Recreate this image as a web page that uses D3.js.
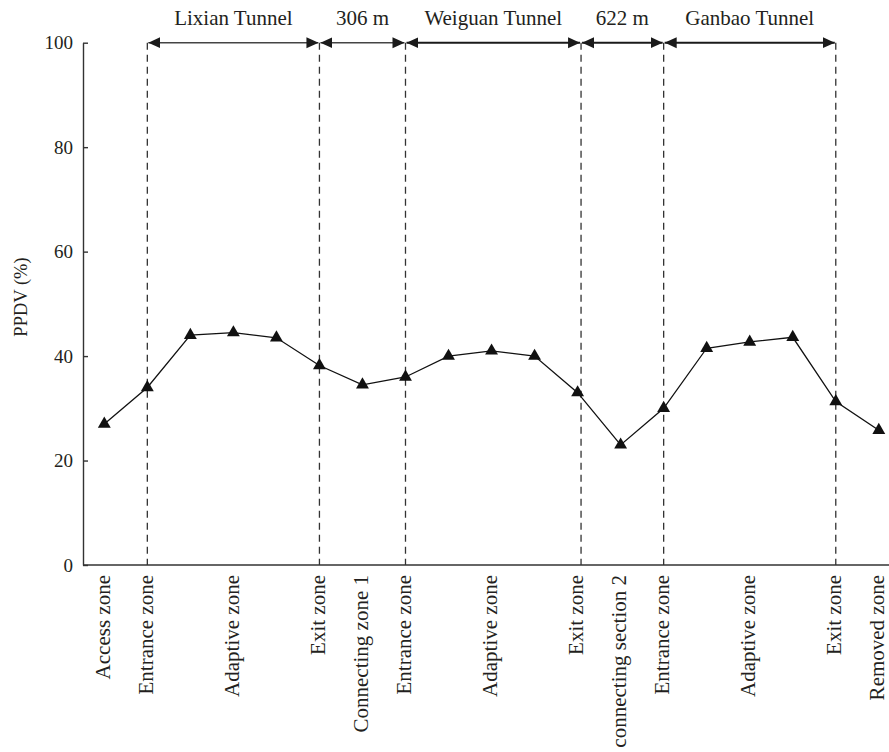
<!DOCTYPE html>
<html>
<head>
<meta charset="utf-8">
<script src="https://cdn.jsdelivr.net/npm/d3@7/dist/d3.min.js"></script>
<style>
  html, body { margin: 0; padding: 0; background: #fff; }
  svg { display: block; font-family: "Liberation Serif", "Times New Roman", serif; }
</style>
</head>
<body>
<svg id="chart" width="889" height="752"></svg>
<script>
// PPDV measured at each observation point along the three-tunnel route
const ppdv = [27, 34, 44, 44.5, 43.5, 38.2, 34.5, 36, 40, 41, 40, 33, 23, 30, 41.5, 42.7, 43.6, 31.3, 25.8];

// Zone labels under the axis: point index and text
const zoneIndex = [0, 1, 3, 5, 6, 7, 9, 11, 12, 13, 15, 17, 18];
const zoneNames = ["Access zone", "Entrance zone", "Adaptive zone", "Exit zone", "Connecting zone 1",
                   "Entrance zone", "Adaptive zone", "Exit zone", "connecting section 2",
                   "Entrance zone", "Adaptive zone", "Exit zone", "Removed zone"];

// Portal boundaries (in point-index units) and the spans between them
const boundaries = [1, 5, 7, 11.08, 13, 17];
const spanNames = ["Lixian Tunnel", "306 m", "Weiguan Tunnel", "622 m", "Ganbao Tunnel"];

const yTicks = [0, 20, 40, 60, 80, 100];

const svg = d3.select("#chart");
const ink = "#231f20";
const serif = "Liberation Serif";

const x = d3.scaleLinear().domain([0, ppdv.length - 1]).range([104.3, 878.8]);
const y = d3.scaleLinear().domain([0, 100]).range([565, 42.7]);
const axisLeftX = 83;
const axisRightX = 889;

// Y axis with inward ticks
const yAxis = svg.append("g")
  .attr("transform", `translate(${axisLeftX},0)`)
  .call(d3.axisLeft(y).tickValues(yTicks).tickSizeInner(-5).tickSizeOuter(0).tickPadding(10));
yAxis.attr("font-family", serif);
yAxis.select(".domain").attr("stroke", "#333").attr("stroke-width", 1.4);
yAxis.selectAll(".tick line").attr("stroke", "#333").attr("stroke-width", 1.4);
yAxis.selectAll(".tick text")
  .attr("font-size", 19).attr("font-family", serif).attr("fill", ink);

// X axis baseline
svg.append("line")
  .attr("x1", axisLeftX).attr("x2", axisRightX)
  .attr("y1", y(0)).attr("y2", y(0))
  .attr("stroke", "#333").attr("stroke-width", 1.4);

// Y axis title
svg.append("text")
  .attr("transform", "translate(27,297) rotate(-90)")
  .attr("text-anchor", "middle")
  .attr("font-family", serif)
  .attr("font-size", 18.5)
  .attr("fill", ink)
  .text("PPDV (%)");

// Dashed portal boundary lines
svg.append("g").selectAll("line").data(boundaries).join("line")
  .attr("x1", d => x(d)).attr("x2", d => x(d))
  .attr("y1", y(100)).attr("y2", y(0))
  .attr("stroke", "#333").attr("stroke-width", 1.3)
  .attr("stroke-dasharray", "7,5");

// Span arrows along the top
const defs = svg.append("defs");
defs.append("marker")
  .attr("id", "arrowHead")
  .attr("viewBox", "0 0 12 12")
  .attr("refX", 12).attr("refY", 6)
  .attr("markerWidth", 12).attr("markerHeight", 12)
  .attr("markerUnits", "userSpaceOnUse")
  .attr("orient", "auto-start-reverse")
  .append("path").attr("d", "M0,0.5 L12,6 L0,11.5 Z").attr("fill", "#1a1a1a");

const spans = spanNames.map((name, i) => ({ name, a: boundaries[i], b: boundaries[i + 1] }));
const spanG = svg.append("g").attr("font-family", serif);
spanG.selectAll("line").data(spans).join("line")
  .attr("x1", d => x(d.a) + 1).attr("x2", d => x(d.b) - 1)
  .attr("y1", y(100)).attr("y2", y(100))
  .attr("stroke", (d, i) => i < 2 ? "#444" : "#1a1a1a")
  .attr("stroke-width", (d, i) => i < 2 ? 1.4 : 2)
  .attr("marker-start", "url(#arrowHead)")
  .attr("marker-end", "url(#arrowHead)");
spanG.selectAll("text").data(spans).join("text")
  .attr("x", d => (x(d.a) + x(d.b)) / 2)
  .attr("y", 25)
  .attr("text-anchor", "middle")
  .attr("font-size", 21)
  .attr("fill", ink)
  .text(d => d.name);

// Data line and triangle markers
const line = d3.line().x((d, i) => x(i)).y(d => y(d));
svg.append("path")
  .datum(ppdv)
  .attr("d", line)
  .attr("fill", "none")
  .attr("stroke", "#111")
  .attr("stroke-width", 1.3);

svg.append("g").selectAll("path").data(ppdv).join("path")
  .attr("transform", (d, i) => `translate(${x(i)},${y(d)})`)
  .attr("d", d3.symbol(d3.symbolTriangle, 72))
  .attr("fill", "#111");

// Rotated zone labels
svg.append("g").attr("font-family", serif).selectAll("text").data(zoneIndex).join("text")
  .attr("transform", d => `translate(${x(d)},${y(0) + 10}) rotate(-90)`)
  .attr("dy", "0.27em")
  .attr("text-anchor", "end")
  .attr("font-size", 21)
  .attr("fill", ink)
  .text((d, i) => zoneNames[i]);
</script>
</body>
</html>
